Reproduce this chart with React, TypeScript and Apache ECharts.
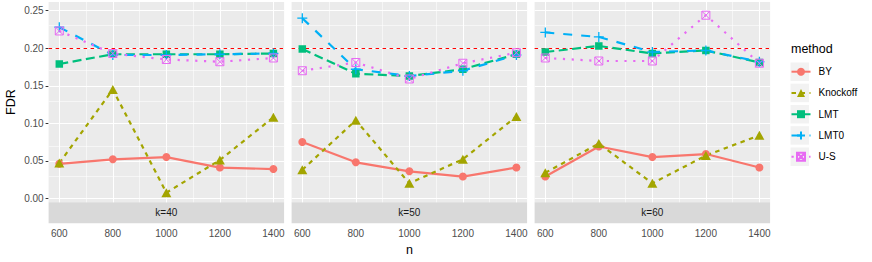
import React, { useEffect, useRef } from 'react';
import * as echarts from 'echarts';

// ---------- data ----------
const nValues = [600, 800, 1000, 1200, 1400];
const kLabels = ['k=40', 'k=50', 'k=60'];
const methods = ['BY', 'Knockoff', 'LMT', 'LMT0', 'U-S'];
const xTicks = [600, 800, 1000, 1200, 1400];
const xMinorTicks = [700, 900, 1100, 1300];
const yTicks = [0, 0.05, 0.1, 0.15, 0.2, 0.25];
const yMinorTicks = [0.025, 0.075, 0.125, 0.175, 0.225];
const targetFDR = 0.2;

// FDR per method, one array per k (k=40, k=50, k=60)
const fdrBY = [
  [0.046, 0.052, 0.055, 0.041, 0.039],
  [0.075, 0.048, 0.036, 0.029, 0.041],
  [0.029, 0.069, 0.055, 0.059, 0.041],
];
const fdrKnockoff = [
  [0.047, 0.145, 0.0075, 0.051, 0.108],
  [0.038, 0.104, 0.020, 0.052, 0.109],
  [0.034, 0.073, 0.020, 0.057, 0.084],
];
const fdrLMT = [
  [0.179, 0.192, 0.192, 0.192, 0.193],
  [0.199, 0.166, 0.163, 0.172, 0.192],
  [0.195, 0.203, 0.193, 0.197, 0.181],
];
const fdrLMT0 = [
  [0.228, 0.191, 0.191, 0.192, 0.193],
  [0.240, 0.172, 0.163, 0.170, 0.191],
  [0.221, 0.215, 0.195, 0.197, 0.182],
];
const fdrUS = [
  [0.223, 0.193, 0.185, 0.182, 0.187],
  [0.170, 0.181, 0.159, 0.180, 0.194],
  [0.187, 0.183, 0.183, 0.244, 0.180],
];

// ---------- styles / layout ----------
const FONT = '"Liberation Sans", Arial, Helvetica, sans-serif';
const PANEL_LEFT = [48.6, 291.6, 534.6];
const PANEL_W = 235.5;
const PANEL_TOP = 2;
const PANEL_H = 200.3;
const STRIP_H = 21;
const Y_MIN = -0.0053;
const Y_MAX = 0.2616;
const X_MIN = 560;
const X_MAX = 1440;

const LW = 2.2;
const methodStyles: Record<string, any> = {
  BY: {
    color: '#F8766D',
    dash: 'solid',
    symbol: 'circle',
    symbolSize: 8,
    fill: '#F8766D',
    border: 0,
  },
  Knockoff: {
    color: '#A3A500',
    dash: [4.5, 4.5],
    symbol: 'triangle',
    symbolSize: [10, 9],
    fill: '#A3A500',
    border: 0,
  },
  LMT: {
    color: '#00BF7D',
    dash: [9, 4.5],
    symbol: 'rect',
    symbolSize: 7.5,
    fill: '#00BF7D',
    border: 0,
  },
  LMT0: {
    color: '#00B0F6',
    dash: [9, 9],
    symbol: 'path://M5,0L5,10M0,5L10,5',
    symbolSize: 10,
    fill: 'rgba(0,0,0,0)',
    border: 1.3,
  },
  'U-S': {
    color: '#E76BF3',
    dash: [2.2, 6.6],
    symbol: 'path://M0,0L10,0L10,10L0,10ZM0,0L10,10M10,0L0,10',
    symbolSize: 8,
    fill: 'rgba(0,0,0,0)',
    border: 1,
  },
};

const methodData: Record<string, number[][]> = {
  BY: fdrBY,
  Knockoff: fdrKnockoff,
  LMT: fdrLMT,
  LMT0: fdrLMT0,
  'U-S': fdrUS,
};

function buildOption() {
  const grid: any[] = [];
  const xAxis: any[] = [];
  const yAxis: any[] = [];
  const series: any[] = [];
  const graphic: any[] = [];

  kLabels.forEach((k, gi) => {
    grid.push({
      left: PANEL_LEFT[gi],
      top: PANEL_TOP,
      width: PANEL_W,
      height: PANEL_H,
      show: true,
      backgroundColor: '#EBEBEB',
      borderWidth: 0,
    });
    xAxis.push({
      type: 'value',
      gridIndex: gi,
      min: X_MIN,
      max: X_MAX,
      offset: STRIP_H,
      axisLine: { show: false },
      axisTick: {
        show: true,
        length: 3,
        customValues: xTicks,
        lineStyle: { color: '#333333', width: 1 },
      },
      axisLabel: {
        show: true,
        customValues: xTicks,
        margin: 5,
        fontSize: 10,
        color: '#4D4D4D',
        fontFamily: FONT,
        formatter: (v: number) => String(v),
      },
      splitLine: { show: false },
      minorSplitLine: { show: false },
      name: gi === 1 ? 'n' : '',
      nameLocation: 'middle',
      nameGap: 18,
      nameTextStyle: { fontSize: 12.5, color: '#000', fontFamily: FONT },
    });
    yAxis.push({
      type: 'value',
      gridIndex: gi,
      min: Y_MIN,
      max: Y_MAX,
      axisLine: { show: false },
      axisTick: {
        show: gi === 0,
        length: 3,
        customValues: yTicks,
        lineStyle: { color: '#333333', width: 1 },
      },
      axisLabel: {
        show: gi === 0,
        customValues: yTicks,
        margin: 5,
        fontSize: 10,
        color: '#4D4D4D',
        fontFamily: FONT,
        formatter: (v: number) => v.toFixed(2),
      },
      splitLine: { show: false },
      name: gi === 0 ? 'FDR' : '',
      nameLocation: 'middle',
      nameRotate: 90,
      nameGap: 31,
      nameTextStyle: { fontSize: 12.5, color: '#000', fontFamily: FONT },
    });

    // grid lines (helper series)
    const gridLineData: any[] = [];
    xMinorTicks.forEach((v) => gridLineData.push({ xAxis: v, lineStyle: { width: 0.55 } }));
    yMinorTicks.forEach((v) => gridLineData.push({ yAxis: v, lineStyle: { width: 0.55 } }));
    xTicks.forEach((v) => gridLineData.push({ xAxis: v, lineStyle: { width: 1.1 } }));
    yTicks.forEach((v) => gridLineData.push({ yAxis: v, lineStyle: { width: 1.1 } }));
    series.push({
      type: 'line',
      name: '_grid' + gi,
      xAxisIndex: gi,
      yAxisIndex: gi,
      data: [],
      z: 1,
      silent: true,
      markLine: {
        z: 1,
        silent: true,
        symbol: ['none', 'none'],
        label: { show: false },
        emphasis: { disabled: true },
        lineStyle: { color: '#FFFFFF', type: 'solid' },
        data: gridLineData,
        animation: false,
      },
    });
    // target FDR line
    series.push({
      type: 'line',
      name: '_target' + gi,
      xAxisIndex: gi,
      yAxisIndex: gi,
      data: [],
      z: 2,
      silent: true,
      markLine: {
        z: 2,
        silent: true,
        symbol: ['none', 'none'],
        label: { show: false },
        emphasis: { disabled: true },
        lineStyle: { color: '#FF0000', type: [3.5, 3.5], width: 1.2 },
        data: [{ yAxis: targetFDR }],
        animation: false,
      },
    });

    methods.forEach((m) => {
      const st = methodStyles[m];
      const vals = methodData[m][gi];
      series.push({
        type: 'line',
        name: m,
        xAxisIndex: gi,
        yAxisIndex: gi,
        z: 3,
        data: nValues.map((n, i) => [n, vals[i]]),
        symbol: st.symbol,
        symbolSize: st.symbolSize,
        showAllSymbol: true,
        clip: false,
        lineStyle: { color: st.color, width: LW, type: st.dash, cap: 'butt' },
        itemStyle: {
          color: st.fill,
          borderColor: st.color,
          borderWidth: st.border,
          opacity: 1,
        },
        emphasis: { disabled: true },
      });
    });

    // strip
    graphic.push({
      type: 'rect',
      shape: { x: PANEL_LEFT[gi], y: PANEL_TOP + PANEL_H, width: PANEL_W, height: STRIP_H },
      style: { fill: '#D9D9D9' },
      silent: true,
    });
    graphic.push({
      type: 'text',
      x: PANEL_LEFT[gi] + PANEL_W / 2,
      y: PANEL_TOP + PANEL_H + STRIP_H / 2,
      style: {
        text: k,
        fontSize: 10,
        fontWeight: 'normal',
        fill: '#1A1A1A',
        fontFamily: FONT,
        align: 'center',
        verticalAlign: 'middle',
      },
      silent: true,
    });
  });

  // legend title + key backgrounds
  graphic.push({
    type: 'text',
    x: 791,
    y: 49,
    style: {
      text: 'method',
      fontSize: 12.5,
      fontWeight: 'normal',
      fill: '#000',
      fontFamily: FONT,
      align: 'left',
      verticalAlign: 'middle',
    },
    silent: true,
  });
  methods.forEach((m, i) => {
    graphic.push({
      type: 'rect',
      shape: { x: 790.5, y: 71.7 + i * 21.25 - 9.25, width: 18.5, height: 18.5 },
      style: { fill: '#F2F2F2' },
      silent: true,
      z: -1,
    });
  });

  return {
    animation: false,
    backgroundColor: '#FFFFFF',
    grid,
    xAxis,
    yAxis,
    series,
    graphic,
    legend: {
      data: methods,
      orient: 'vertical',
      left: 790.5,
      top: 66.7,
      padding: 0,
      itemWidth: 19,
      itemHeight: 10,
      itemGap: 11.25,
      selectedMode: false,
      textStyle: {
        fontSize: 10,
        color: '#000',
        fontFamily: FONT,
        lineHeight: 10,
        padding: [0, 0, 0, 3],
      },
    },
  };
}

export default function App() {
  const ref = useRef<HTMLDivElement>(null);
  useEffect(() => {
    if (!ref.current) return;
    const chart = echarts.init(ref.current, undefined, { renderer: 'svg' });
    chart.setOption(buildOption() as any);
    return () => chart.dispose();
  }, []);
  return (
    <div
      ref={ref}
      style={{ position: 'fixed', left: 0, top: 0, width: 872, height: 262 }}
    />
  );
}
